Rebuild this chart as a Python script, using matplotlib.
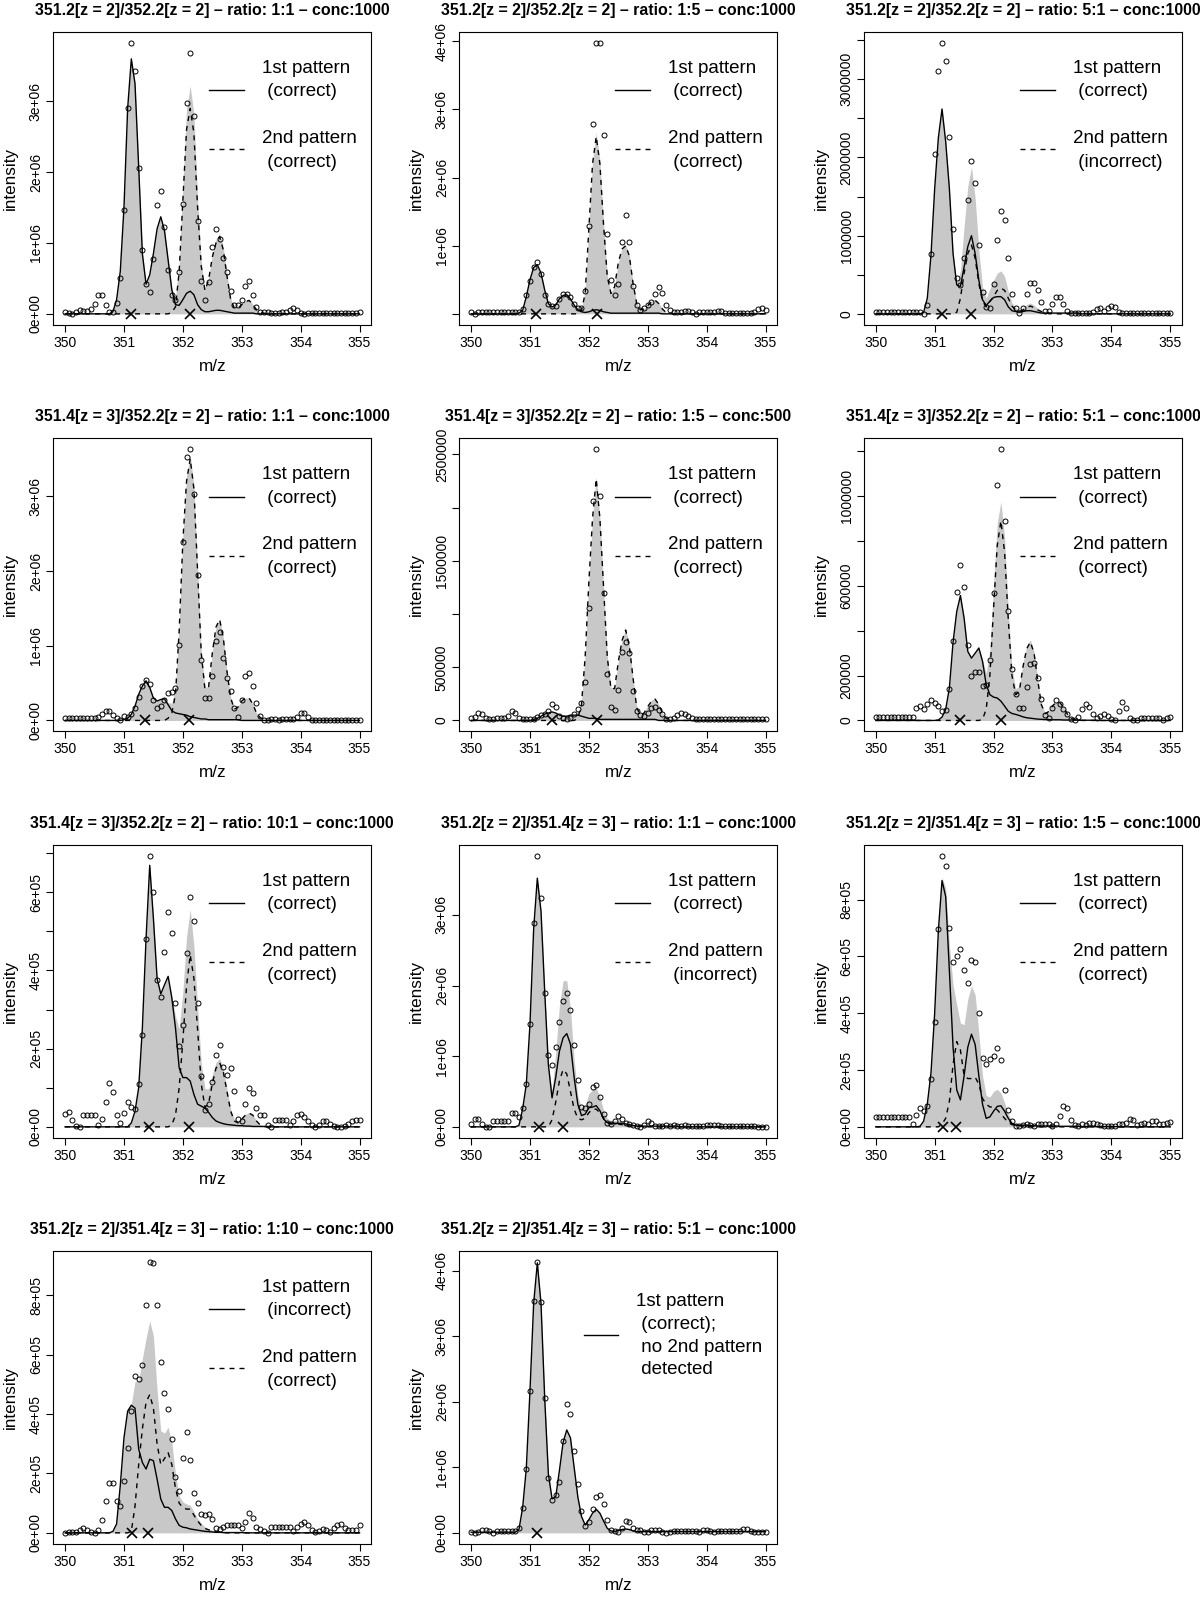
import matplotlib
matplotlib.use("Agg")
import matplotlib.pyplot as plt
import numpy as np

plt.rcParams["font.family"] = ["Liberation Sans", "DejaVu Sans"]

# m/z sampling grid shared by all panels (1/16 spacing)
MZ = np.linspace(350.0, 355.0, 81)

# ---- panel 1 (x1e6) ----
P1_POINTS = [0.02, 0.01, 0.0, 0.02, 0.05, 0.04, 0.04, 0.07, 0.14, 0.26, 0.26, 0.12, 0.02,
             0.02, 0.15, 0.5, 1.46, 2.9, 3.83, 3.43, 2.06, 0.9, 0.42, 0.31, 0.78, 1.54,
             1.74, 1.23, 0.62, 0.26, 0.2, 0.59, 1.55, 2.97, 3.68, 2.79, 1.31, 0.46, 0.2,
             0.45, 0.95, 1.2, 1.06, 0.79, 0.59, 0.32, 0.12, 0.12, 0.2, 0.39, 0.46, 0.27,
             0.09, 0.02, 0.02, 0.02, 0.01, 0.01, 0.01, 0.02, 0.03, 0.05, 0.08, 0.05, 0.01,
             0.0, 0.01, 0.01, 0.01, 0.01, 0.01, 0.01, 0.01, 0.01, 0.01, 0.01, 0.01, 0.01, 0.01, 0.01, 0.02]
P1_FIRST = [0] * 13 + [0.03, 0.2, 0.6, 1.5, 2.9, 3.6, 3.25, 2.07, 0.85, 0.42, 0.55, 0.85, 1.2,
                       1.37, 1.18, 0.76, 0.34, 0.13, 0.12, 0.2, 0.29, 0.32, 0.27, 0.13, 0.06, 0.03,
                       0.03, 0.04, 0.05, 0.05, 0.04, 0.03, 0.02, 0.01, 0.01, 0.01, 0.01, 0.01, 0.01] + [0] * 29
P1_SECOND = [0] * 29 + [0.02, 0.1, 0.6, 1.6, 2.6, 2.9, 2.55, 1.5, 0.67, 0.33, 0.48, 0.8, 1.0,
                        1.09, 0.9, 0.53, 0.2, 0.08, 0.08, 0.13, 0.17, 0.19, 0.13, 0.06, 0.02, 0.01] + [0] * 26

# ---- panel 2 (x1e6) ----
P2_POINTS = [0.02, 0.0] + [0.02] * 11 + \
            [0.02, 0.07, 0.27, 0.48, 0.68, 0.76, 0.59, 0.28, 0.15, 0.11, 0.11, 0.22, 0.29,
             0.29, 0.24, 0.14, 0.08, 0.09, 0.34, 1.29, 2.78, 3.98, 3.97, 2.62, 1.17, 0.5,
             0.27, 0.44, 1.05, 1.45, 1.05, 0.41, 0.13, 0.05, 0.08, 0.13, 0.17, 0.29, 0.39,
             0.3, 0.13, 0.06, 0.03, 0.03, 0.03, 0.04, 0.04, 0.02, 0.0, 0.02, 0.02, 0.02,
             0.02, 0.02, 0.04, 0.04, 0.01, 0.01, 0.01, 0.01, 0.01, 0.01, 0.01, 0.01, 0.03, 0.07, 0.09, 0.06]
P2_FIRST = [0] * 13 + [0.01, 0.05, 0.25, 0.5, 0.68, 0.72, 0.6, 0.35, 0.15, 0.1, 0.13, 0.22, 0.27,
                       0.28, 0.22, 0.13, 0.06, 0.03, 0.02, 0.03, 0.05, 0.06, 0.05, 0.03, 0.02, 0.01] + \
           [0.01] * 13 + [0] * 29
P2_SECOND = [0] * 30 + [0.05, 0.3, 1.25, 2.2, 2.6, 2.2, 1.3, 0.55, 0.3, 0.4, 0.75, 0.95, 1.0,
                        0.85, 0.45, 0.15, 0.06, 0.07, 0.12, 0.18, 0.2, 0.15, 0.07, 0.02, 0.01, 0.0] + [0] * 25

# ---- panel 3 (x1e6) ----
P3_POINTS = [0.02] * 13 + \
            [0.0, 0.11, 0.76, 2.04, 3.1, 3.47, 3.23, 2.26, 1.08, 0.46, 0.37, 0.71, 1.45,
             1.96, 1.68, 0.88, 0.28, 0.09, 0.08, 0.38, 0.95, 1.31, 1.2, 0.71, 0.25, 0.08,
             0.01, 0.08, 0.26, 0.4, 0.4, 0.3, 0.15, 0.04, 0.04, 0.13, 0.21, 0.21, 0.13,
             0.04, 0.01, 0.01, 0.01, 0.01, 0.01, 0.01, 0.02, 0.06, 0.07, 0.04, 0.07, 0.1,
             0.09, 0.03] + [0.01] * 14
P3_FIRST = [0] * 13 + [0.02, 0.2, 0.75, 1.6, 2.25, 2.62, 2.2, 1.6, 0.77, 0.37, 0.35, 0.6, 0.86,
                       1.0, 0.77, 0.43, 0.18, 0.11, 0.16, 0.21, 0.22, 0.22, 0.18, 0.09, 0.04, 0.03,
                       0.02, 0.03, 0.04, 0.04, 0.03, 0.02, 0.01, 0.01, 0.01, 0.01, 0.01, 0.01, 0.01,
                       0.01, 0.01, 0.01, 0.01] + [0] * 25
P3_SECOND = [0] * 22 + [0.02, 0.2, 0.52, 0.77, 0.88, 0.71, 0.39, 0.16, 0.09, 0.16, 0.22, 0.3, 0.33,
                        0.3, 0.2, 0.1, 0.05, 0.03, 0.05, 0.08, 0.1, 0.08, 0.05, 0.03, 0.02, 0.01] + [0] * 33

# ---- panel 4 (x1e6) ----
P4_POINTS = [0.03] * 9 + [0.04, 0.08, 0.12, 0.13] + \
            [0.07, 0.03, 0.01, 0.06, 0.04, 0.09, 0.17, 0.32, 0.46, 0.54, 0.49, 0.28, 0.16,
             0.19, 0.28, 0.37, 0.38, 0.44, 1.01, 2.39, 3.52, 3.63, 3.03, 1.94, 0.81, 0.3,
             0.3, 0.6, 1.06, 1.18, 0.84, 0.57, 0.39, 0.16, 0.05, 0.27, 0.59, 0.64, 0.46,
             0.24, 0.06, 0.01, 0.01, 0.02, 0.02, 0.01, 0.02, 0.02, 0.02, 0.02, 0.04, 0.1,
             0.1, 0.04] + [0.01] * 14
P4_FIRST = [0] * 16 + [0.01, 0.03, 0.08, 0.19, 0.35, 0.46, 0.53, 0.44, 0.3, 0.26, 0.28, 0.29, 0.21,
                       0.13, 0.1, 0.09, 0.08, 0.07, 0.05, 0.04, 0.03, 0.02, 0.02, 0.01, 0.01, 0.01] + \
           [0.01] * 6 + [0] * 33
P4_SECOND = [0] * 28 + [0.03, 0.1, 0.35, 1.2, 2.4, 3.2, 3.5, 3.1, 2.0, 0.9, 0.42, 0.45, 0.9,
                        1.25, 1.35, 1.1, 0.65, 0.3, 0.15, 0.18, 0.26, 0.3, 0.3, 0.22, 0.1, 0.04,
                        0.01] + [0] * 26

# ---- panel 5 (x1e6) ----
P5_POINTS = [0.02, 0.03, 0.07, 0.06, 0.02, 0.01, 0.01, 0.02, 0.02, 0.02, 0.04, 0.09, 0.07,
             0.02, 0.01, 0.01, 0.01, 0.01, 0.03, 0.05, 0.06, 0.09, 0.15, 0.13, 0.04, 0.02,
             0.01, 0.02, 0.06, 0.11, 0.16, 0.36, 1.06, 2.06, 2.55, 2.11, 1.2, 0.44, 0.13,
             0.1, 0.29, 0.64, 0.74, 0.63, 0.28, 0.09, 0.05, 0.04, 0.07, 0.12, 0.13, 0.1,
             0.06, 0.01, 0.01, 0.02, 0.05, 0.07, 0.06, 0.04, 0.02, 0.01, 0.01, 0.01, 0.01] + [0.01] * 16
P5_FIRST = [0] * 17 + [0.01, 0.02, 0.04, 0.06, 0.07, 0.08, 0.07, 0.05, 0.04, 0.04, 0.05, 0.05, 0.05,
                       0.04, 0.03, 0.02, 0.02, 0.02, 0.01, 0.01, 0.01, 0.01, 0.01, 0.01, 0.01, 0.01] + \
           [0.01] * 8 + [0] * 30
P5_SECOND = [0] * 29 + [0.02, 0.15, 0.6, 1.3, 1.9, 2.27, 1.9, 1.25, 0.6, 0.3, 0.3, 0.55, 0.75,
                        0.85, 0.7, 0.4, 0.12, 0.05, 0.07, 0.13, 0.18, 0.2, 0.15, 0.07, 0.02, 0.01] + [0] * 26

# ---- panel 6 (x1e5) ----
P6_POINTS = [0.16] * 11 + [0.56, 0.64] + \
            [0.52, 0.74, 0.93, 0.79, 0.64, 0.44, 0.47, 1.42, 3.53, 5.73, 6.95, 5.93, 3.35,
             1.97, 2.18, 2.16, 1.53, 1.6, 2.68, 5.7, 10.5, 12.1, 8.9, 4.87, 2.3, 1.19,
             0.56, 0.56, 1.51, 2.52, 2.55, 1.9, 0.96, 0.24, 0.12, 0.56, 0.9, 0.74, 0.49,
             0.27, 0.06, 0.03, 0.16, 0.5, 0.74, 0.61, 0.28, 0.12, 0.19, 0.3, 0.22, 0.07,
             0.03, 0.4, 0.83, 0.56, 0.12, 0.03, 0.03, 0.1, 0.1, 0.1, 0.1, 0.1, 0.1, 0.03, 0.12, 0.16]
P6_FIRST = [0] * 17 + [0.02, 0.15, 0.5, 1.45, 3.5, 4.86, 5.57, 4.56, 3.08, 2.78, 3.0, 3.23, 2.64,
                       1.6, 1.15, 1.04, 1.0, 0.86, 0.64, 0.41, 0.31, 0.27, 0.22, 0.16, 0.12, 0.1,
                       0.08, 0.06, 0.05, 0.04, 0.04, 0.03, 0.03, 0.03, 0.02, 0.02, 0.02, 0.02, 0.01] + \
           [0.01] * 5 + [0] * 20
P6_SECOND = [0] * 29 + [0.05, 0.5, 2.0, 5.0, 7.8, 8.9, 7.5, 4.5, 2.0, 1.15, 1.3, 2.4, 3.2,
                        3.5, 3.0, 1.8, 0.7, 0.3, 0.4, 0.65, 0.8, 0.8, 0.6, 0.3, 0.1, 0.03] + [0] * 26

# ---- panel 7 (x1e5) ----
P7_POINTS = [0.34, 0.37, 0.17, 0.03, 0.0, 0.31, 0.31, 0.31, 0.31, 0.05, 0.19, 0.63, 1.11,
             0.9, 0.31, 0.1, 0.36, 0.64, 0.5, 0.45, 1.09, 2.36, 4.81, 6.94, 6.02, 3.76,
             3.33, 4.46, 5.5, 4.97, 3.17, 2.06, 2.61, 4.44, 5.89, 5.26, 3.18, 1.29, 0.44,
             0.59, 1.16, 1.83, 2.1, 1.53, 1.32, 1.5, 0.91, 0.2, 0.15, 0.58, 1.0, 0.87,
             0.47, 0.3, 0.3, 0.05, 0.0, 0.17, 0.17, 0.17, 0.17, 0.04, 0.14, 0.3, 0.32,
             0.25, 0.15, 0.05, 0.0, 0.05, 0.15, 0.15, 0.07, 0.02, 0.0, 0.0, 0.02, 0.07, 0.15, 0.18, 0.17]
P7_FIRST = [0] * 18 + [0.1, 0.4, 1.0, 2.53, 4.82, 6.69, 5.33, 3.8, 3.4, 3.63, 3.85, 3.3, 2.53,
                       1.51, 1.26, 1.26, 1.17, 0.83, 0.58, 0.53, 0.48, 0.37, 0.24, 0.15, 0.11, 0.08,
                       0.06, 0.05, 0.04, 0.03, 0.03, 0.02, 0.02, 0.01, 0.01, 0.01, 0.01, 0.01, 0.0] + [0] * 24
P7_SECOND = [0] * 29 + [0.05, 0.3, 1.0, 2.2, 3.6, 4.4, 3.8, 2.5, 1.1, 0.5, 0.6, 1.1, 1.5,
                        1.64, 1.4, 0.9, 0.4, 0.15, 0.1, 0.2, 0.3, 0.35, 0.3, 0.15, 0.05, 0.01] + [0] * 26

# ---- panel 8 (x1e6) ----
P8_POINTS = [0.04, 0.11, 0.11, 0.04, 0.0, 0.0, 0.08, 0.08, 0.08, 0.08, 0.08, 0.2, 0.2,
             0.14, 0.27, 0.6, 1.45, 2.89, 3.84, 3.24, 1.89, 1.01, 0.87, 1.13, 1.48, 1.78,
             1.89, 1.65, 1.16, 0.66, 0.28, 0.26, 0.33, 0.57, 0.59, 0.42, 0.18, 0.05, 0.04,
             0.08, 0.15, 0.11, 0.06, 0.04, 0.03, 0.01, 0.0, 0.02, 0.08, 0.06, 0.01, 0.01,
             0.01, 0.02, 0.01, 0.02, 0.01, 0.01, 0.02, 0.01, 0.01, 0.01, 0.01, 0.01, 0.02,
             0.03, 0.03, 0.02, 0.01, 0.01, 0.01, 0.01, 0.01, 0.01, 0.01, 0.01, 0.01, 0.01, 0.0, 0.0, 0.0]
P8_FIRST = [0] * 13 + [0.02, 0.25, 0.6, 1.45, 2.8, 3.52, 3.05, 1.92, 0.88, 0.41, 0.7, 1.07, 1.26,
                       1.32, 1.17, 0.7, 0.32, 0.16, 0.18, 0.27, 0.28, 0.3, 0.23, 0.11, 0.06, 0.05,
                       0.05, 0.05, 0.05, 0.04, 0.03, 0.02, 0.01, 0.01, 0.01, 0.01, 0.01, 0.01, 0.01] + \
           [0.01] * 5 + [0] * 24
P8_SECOND = [0] * 22 + [0.1, 0.35, 0.65, 0.81, 0.75, 0.5, 0.25, 0.12, 0.1, 0.12, 0.2, 0.25, 0.25,
                        0.2, 0.12, 0.06, 0.04, 0.04, 0.04, 0.03, 0.02, 0.01, 0.01, 0.01, 0.01, 0.01] + [0] * 33

# ---- panel 9 (x1e5) ----
P9_POINTS = [0.33] * 10 + [0.09, 0.41, 0.68] + \
            [0.56, 0.72, 1.68, 3.7, 6.95, 9.55, 9.18, 6.99, 5.8, 6.03, 6.27, 5.53, 5.08,
             5.89, 5.81, 4.0, 2.44, 2.2, 2.38, 2.51, 2.77, 2.34, 1.31, 0.6, 0.19, 0.02,
             0.04, 0.08, 0.09, 0.08, 0.02, 0.09, 0.09, 0.09, 0.09, 0.02, 0.09, 0.38, 0.74,
             0.66, 0.25, 0.06, 0.04, 0.09, 0.05, 0.13, 0.15, 0.09, 0.06, 0.02, 0.02, 0.02,
             0.02, 0.09, 0.09, 0.15, 0.29, 0.25, 0.06, 0.09, 0.12, 0.09, 0.19, 0.19, 0.09, 0.09, 0.12, 0.18]
P9_FIRST = [0] * 12 + [0.02, 0.2, 0.8, 1.9, 4.0, 6.9, 8.67, 8.1, 5.5, 2.8, 1.3, 0.95, 1.8,
                       2.8, 3.26, 2.9, 1.8, 0.8, 0.3, 0.35, 0.55, 0.72, 0.74, 0.55, 0.3, 0.12,
                       0.06, 0.05, 0.06, 0.06, 0.05, 0.04, 0.03, 0.03, 0.03, 0.03, 0.03, 0.03, 0.02] + \
           [0.02] * 5 + [0.01] * 10 + [0] * 15
P9_SECOND = [0] * 18 + [0.1, 0.3, 0.9, 2.2, 3.0, 2.7, 1.8, 1.7, 1.7, 1.75, 1.5, 1.0, 0.8,
                        0.7, 0.7, 0.6, 0.45, 0.3, 0.15, 0.08, 0.05, 0.04, 0.03, 0.02, 0.01, 0.01] + [0] * 37

# ---- panel 10 (x1e5) ----
P10_POINTS = [0.0, 0.04, 0.04, 0.04, 0.11, 0.16, 0.11, 0.04, 0.0, 0.1, 0.44, 1.07, 1.68,
              1.68, 1.06, 0.89, 1.73, 2.87, 4.12, 5.28, 5.2, 5.66, 7.66, 9.14, 9.1, 7.68,
              5.74, 4.72, 4.17, 3.15, 1.88, 1.41, 2.53, 3.41, 2.44, 1.34, 1.01, 0.64, 0.6,
              0.64, 0.45, 0.17, 0.13, 0.19, 0.25, 0.25, 0.25, 0.25, 0.17, 0.36, 0.66, 0.51,
              0.21, 0.13, 0.07, 0.0, 0.21, 0.21, 0.21, 0.21, 0.21, 0.21, 0.07, 0.21, 0.3,
              0.38, 0.27, 0.11, 0.02, 0.07, 0.13, 0.11, 0.04, 0.16, 0.27, 0.3, 0.18, 0.11, 0.11, 0.11, 0.28]
P10_FIRST = [0] * 13 + [0.05, 0.3, 1.6, 3.2, 4.1, 4.3, 4.2, 2.82, 2.37, 2.15, 2.48, 2.43, 1.81,
                        1.14, 0.86, 0.86, 0.75, 0.47, 0.25, 0.19, 0.17, 0.13, 0.11, 0.09, 0.07, 0.05,
                        0.04, 0.03, 0.02, 0.02, 0.01, 0.01, 0.01, 0.01, 0.01, 0.01, 0.0, 0.0, 0.0] + [0] * 29
P10_SECOND = [0] * 18 + [0.05, 0.9, 2.3, 3.5, 4.4, 4.66, 4.2, 3.0, 2.3, 2.5, 2.7, 2.3, 1.5,
                         1.0, 0.85, 0.8, 0.8, 0.6, 0.4, 0.25, 0.15, 0.1, 0.06, 0.04, 0.02, 0.01] + [0] * 37

# ---- panel 11 (x1e6) ----
P11_POINTS = [0.01, 0.0, 0.02, 0.04, 0.04, 0.03, 0.0, 0.03, 0.03, 0.03, 0.03, 0.03, 0.03,
              0.07, 0.38, 0.97, 2.16, 3.54, 4.14, 3.52, 2.06, 0.84, 0.5, 0.58, 0.78, 1.4,
              1.96, 1.82, 1.25, 0.75, 0.34, 0.11, 0.17, 0.37, 0.54, 0.58, 0.44, 0.19, 0.05,
              0.03, 0.02, 0.08, 0.18, 0.17, 0.08, 0.05, 0.04, 0.02, 0.02, 0.04, 0.05, 0.04,
              0.02, 0.0, 0.02, 0.03, 0.03, 0.03, 0.03, 0.03, 0.03, 0.03, 0.01, 0.04, 0.05,
              0.03, 0.01, 0.03, 0.03, 0.03, 0.03, 0.03, 0.03, 0.03, 0.06, 0.06, 0.03, 0.01, 0.01, 0.01, 0.01]
P11_FIRST = [0.01] * 13 + [0.05, 0.38, 0.98, 2.16, 3.5, 4.12, 3.5, 2.06, 0.9, 0.52, 0.55, 0.95, 1.38,
                           1.57, 1.45, 1.0, 0.55, 0.25, 0.12, 0.2, 0.3, 0.36, 0.3, 0.18, 0.07, 0.03,
                           0.02, 0.04, 0.05, 0.06, 0.05, 0.03, 0.02, 0.02, 0.02, 0.02, 0.02, 0.02, 0.02] + \
            [0.02] * 29
P11_SECOND = None

TITLES = [
    "351.2[z = 2]/352.2[z = 2] \u2013 ratio: 1:1 \u2013 conc:1000",
    "351.2[z = 2]/352.2[z = 2] \u2013 ratio: 1:5 \u2013 conc:1000",
    "351.2[z = 2]/352.2[z = 2] \u2013 ratio: 5:1 \u2013 conc:1000",
    "351.4[z = 3]/352.2[z = 2] \u2013 ratio: 1:1 \u2013 conc:1000",
    "351.4[z = 3]/352.2[z = 2] \u2013 ratio: 1:5 \u2013 conc:500",
    "351.4[z = 3]/352.2[z = 2] \u2013 ratio: 5:1 \u2013 conc:1000",
    "351.4[z = 3]/352.2[z = 2] \u2013 ratio: 10:1 \u2013 conc:1000",
    "351.2[z = 2]/351.4[z = 3] \u2013 ratio: 1:1 \u2013 conc:1000",
    "351.2[z = 2]/351.4[z = 3] \u2013 ratio: 1:5 \u2013 conc:1000",
    "351.2[z = 2]/351.4[z = 3] \u2013 ratio: 1:10 \u2013 conc:1000",
    "351.2[z = 2]/351.4[z = 3] \u2013 ratio: 5:1 \u2013 conc:1000",
]
FIRST_STATUS = ["correct"] * 9 + ["incorrect", "correct"]
SECOND_STATUS = ["correct", "correct", "incorrect", "correct", "correct", "correct",
                 "correct", "incorrect", "correct", "correct", None]
# monoisotopic peak positions (x markers on the baseline)
MARKS = [[351.12, 352.12], [351.11, 352.13], [351.12, 351.62], [351.36, 352.11],
         [351.37, 352.13], [351.43, 352.12], [351.43, 352.11], [351.15, 351.56],
         [351.14, 351.37], [351.13, 351.41], [351.12]]
SCALES = [1e6, 1e6, 1e6, 1e6, 1e6, 1e5, 1e5, 1e6, 1e5, 1e5, 1e6]
# (tick step, labelled ticks, style)
YTICKS = [
    (1e6, [0, 1e6, 2e6, 3e6], "sci"),
    (1e6, [1e6, 2e6, 3e6, 4e6], "sci"),
    (5e5, [0, 1e6, 2e6, 3e6], "plain"),
    (1e6, [0, 1e6, 2e6, 3e6], "sci"),
    (5e5, [0, 5e5, 1.5e6, 2.5e6], "plain"),
    (2e5, [0, 2e5, 6e5, 1e6], "plain"),
    (1e5, [0, 2e5, 4e5, 6e5], "sci"),
    (1e6, [0, 1e6, 2e6, 3e6], "sci"),
    (2e5, [0, 2e5, 4e5, 6e5, 8e5], "sci"),
    (2e5, [0, 2e5, 4e5, 6e5, 8e5], "sci"),
    (1e6, [0, 1e6, 2e6, 3e6, 4e6], "sci"),
]

POINTS = [P1_POINTS, P2_POINTS, P3_POINTS, P4_POINTS, P5_POINTS, P6_POINTS,
          P7_POINTS, P8_POINTS, P9_POINTS, P10_POINTS, P11_POINTS]
FIRSTS = [P1_FIRST, P2_FIRST, P3_FIRST, P4_FIRST, P5_FIRST, P6_FIRST,
          P7_FIRST, P8_FIRST, P9_FIRST, P10_FIRST, P11_FIRST]
SECONDS = [P1_SECOND, P2_SECOND, P3_SECOND, P4_SECOND, P5_SECOND, P6_SECOND,
           P7_SECOND, P8_SECOND, P9_SECOND, P10_SECOND, P11_SECOND]

FIG_W, FIG_H = 1200, 1598
COL_LEFT = [53.3, 459.3, 864.0]
ROW_TOP = [31.7, 438.3, 844.7, 1250.7]
AX_W, AX_H = 318.0, 293.0
GRAY = "#c8c8c8"
DASH = (0, (3.6, 3.6))


def fmt_tick(v, style):
    if style == "sci":
        return f"{v:.0e}"
    return str(int(round(v)))


def draw_panel(ax, k):
    scale = SCALES[k]
    pts = np.asarray(POINTS[k], dtype=float) * scale
    first = np.asarray(FIRSTS[k], dtype=float) * scale
    assert len(pts) == 81 and len(first) == 81, (k, len(pts), len(first))
    if SECONDS[k] is not None:
        second = np.asarray(SECONDS[k], dtype=float) * scale
        assert len(second) == 81, (k, len(second))
    else:
        second = np.zeros_like(first)

    ax.fill_between(MZ, 0, first + second, color=GRAY, lw=0, zorder=1)
    ax.plot(MZ, first, color="black", lw=1.0, zorder=3)
    if SECONDS[k] is not None:
        ax.plot(MZ, second, color="black", lw=1.0, ls=DASH, zorder=3)
    ax.plot(MZ, pts, "o", mfc="none", mec="black", ms=3.6, mew=0.7, zorder=4)
    ax.plot(MARKS[k], np.zeros(len(MARKS[k])), "x", color="black", ms=6.5, mew=1.2, zorder=5)

    hi = max(pts.max(), (first + second).max())
    lo = min(pts.min(), 0.0)
    pad = 0.04 * (hi - lo)

    step, labelled, style = YTICKS[k]
    ticks = np.arange(0, hi + pad, step)
    labels = [fmt_tick(t, style) if any(abs(t - l) < 1 for l in labelled) else "" for t in ticks]
    ax.set_yticks(ticks)
    ax.set_yticklabels(labels, rotation=90, va="center")
    ax.set_xticks([350, 351, 352, 353, 354, 355])
    ax.set_xlim(349.8, 355.2)
    ax.set_ylim(lo - pad, hi + pad)

    ax.tick_params(direction="out", length=5, width=0.8, labelsize=10, pad=3)
    ax.tick_params(axis="y", pad=2.5)
    for sp in ax.spines.values():
        sp.set_linewidth(0.8)

    ax.text(0.5, 1.074, TITLES[k], transform=ax.transAxes, ha="center", va="center",
            fontsize=11.4, fontweight="bold")
    ax.text(0.5, -0.142, "m/z", transform=ax.transAxes, ha="center", va="center", fontsize=12.3)
    ax.text(-0.135, 0.5, "intensity", transform=ax.transAxes, ha="center", va="center",
            rotation=90, fontsize=12.3)

    # hand-placed legend, as in the original
    lf = 13.5
    if SECONDS[k] is not None:
        ax.plot([0.49, 0.60], [0.801, 0.801], color="black", lw=1.0, transform=ax.transAxes)
        ax.plot([0.49, 0.60], [0.599, 0.599], color="black", lw=1.0, ls=DASH, transform=ax.transAxes)
        rows = [("1st pattern", 0.876), (f" ({FIRST_STATUS[k]})", 0.795),
                ("2nd pattern", 0.637), (f" ({SECOND_STATUS[k]})", 0.555)]
        tx = 0.656
    else:
        ax.plot([0.392, 0.50], [0.713, 0.713], color="black", lw=1.0, transform=ax.transAxes)
        rows = [("1st pattern", 0.827), (f" ({FIRST_STATUS[k]});", 0.747),
                (" no 2nd pattern", 0.670), (" detected", 0.593)]
        tx = 0.556
    for txt, y in rows:
        ax.text(tx, y, txt, transform=ax.transAxes, ha="left", va="center", fontsize=lf)


fig = plt.figure(figsize=(FIG_W / 100, FIG_H / 100), dpi=100)
for k in range(11):
    r, c = divmod(k, 3)
    left = COL_LEFT[c] / FIG_W
    bottom = 1 - (ROW_TOP[r] + AX_H) / FIG_H
    ax = fig.add_axes([left, bottom, AX_W / FIG_W, AX_H / FIG_H])
    draw_panel(ax, k)

fig.savefig("out.png", dpi=100, facecolor="white")
